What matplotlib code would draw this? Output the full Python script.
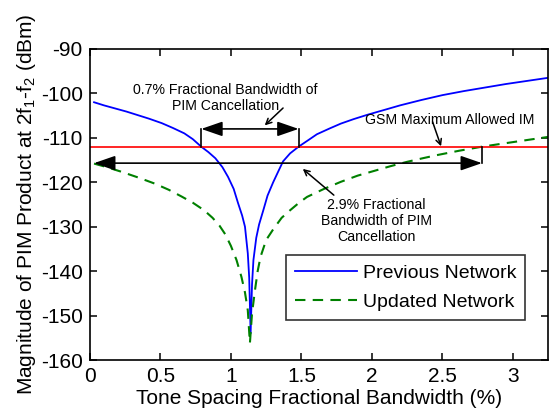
import matplotlib
matplotlib.use("Agg")
import matplotlib.pyplot as plt

plt.rcParams['font.family'] = ['Liberation Sans', 'DejaVu Sans']
plt.rcParams['mathtext.default'] = 'regular'
plt.rcParams['axes.unicode_minus'] = False

# Previous network (blue, solid)
xPrev = [0.03, 0.10, 0.18, 0.26, 0.34, 0.42, 0.51, 0.59, 0.67, 0.73, 0.79, 0.84, 0.89, 0.94, 0.98,
         1.02, 1.05, 1.08, 1.10, 1.12, 1.13, 1.14, 1.15, 1.16, 1.18, 1.20, 1.23, 1.26, 1.30, 1.34,
         1.37, 1.42, 1.48, 1.55, 1.61, 1.70, 1.78, 1.87, 1.97, 2.08, 2.20, 2.35, 2.50, 2.65, 2.80,
         2.95, 3.10, 3.25]
yPrev = [-102.0, -102.7, -103.4, -104.1, -104.9, -105.7, -106.7, -107.8, -109.0, -110.3, -112.0,
         -113.2, -114.6, -116.6, -118.8, -121.5, -124.6, -127.5, -130.0, -136.0, -141.5, -154.0,
         -143.0, -137.5, -132.5, -129.5, -126.3, -123.0, -120.0, -117.3, -115.3, -113.5, -112.0,
         -110.5, -109.2, -107.9, -106.8, -105.8, -104.8, -103.8, -102.7, -101.5, -100.4, -99.5,
         -98.7, -97.9, -97.2, -96.5]

# Updated network (green, dashed)
xUpd = [0.03, 0.12, 0.22, 0.34, 0.46, 0.56, 0.65, 0.73, 0.81, 0.87, 0.92, 0.96, 1.00, 1.04, 1.075,
        1.10, 1.12, 1.135, 1.15, 1.17, 1.19, 1.21, 1.25, 1.30, 1.36, 1.42, 1.48, 1.54, 1.66, 1.78,
        1.90, 2.01, 2.13, 2.25, 2.36, 2.46, 2.62, 2.78, 2.95, 3.10, 3.25]
yUpd = [-115.8, -116.6, -117.6, -118.9, -120.3, -121.7, -123.2, -124.6, -126.3, -128.0, -129.8,
        -131.7, -134.3, -137.5, -141.3, -144.8, -148.8, -156.2, -149.5, -144.5, -140.0, -136.8,
        -133.0, -130.6, -128.0, -126.3, -124.7, -123.3, -121.5, -119.9, -118.5, -117.5, -116.4,
        -115.4, -114.6, -113.9, -112.9, -112.0, -111.2, -110.5, -109.8]

gsmLimit = -112
band07 = [0.79, 1.48]   # ancho de banda 0.7%
band29 = [0.03, 2.78]   # ancho de banda 2.9%
xTicks = [0, 0.5, 1, 1.5, 2, 2.5, 3]
yTicks = [-160, -150, -140, -130, -120, -110, -100, -90]

fig = plt.figure(figsize=(5.51, 4.11), dpi=100)
ax = fig.add_axes([0.163, 0.124, 0.832, 0.757])

ax.plot(xPrev, yPrev, color='#0000ff', lw=1.3, label="Previous Network")
ax.plot(xUpd, yUpd, color='#008000', lw=1.5, ls=(0, (5, 3.5)), label="Updated Network")
ax.axhline(gsmLimit, color='#ff0000', lw=1.2)

#Flechas dobles
flecha = dict(arrowstyle='<|-|>,head_length=1.3,head_width=0.45', color='black', lw=1.2,
              shrinkA=0, shrinkB=0, mutation_scale=10)
y07 = -108
ax.annotate('', xy=(band07[0], y07), xytext=(band07[1], y07), arrowprops=flecha)
ax.plot([band07[0], band07[0]], [y07, gsmLimit], color='black', lw=1.2)
ax.plot([band07[1], band07[1]], [y07, gsmLimit], color='black', lw=1.2)
y29 = -115.7
ax.annotate('', xy=(band29[0], y29), xytext=(band29[1], y29), arrowprops=flecha)
ax.plot([band29[1], band29[1]], [y29, gsmLimit], color='black', lw=1.2)

#Textos con flecha
simple = dict(arrowstyle='->', color='black', lw=1.1, shrinkA=0, shrinkB=0)
ax.text(0.96, -101, "0.7% Fractional Bandwidth of\nPIM Cancellation", fontsize=10.2,
        ha='center', va='center', linespacing=1.2)
ax.annotate('', xy=(1.24, -107.2), xytext=(1.37, -103.3), arrowprops=simple)
ax.text(2.55, -106.1, "GSM Maximum Allowed IM", fontsize=10.2, ha='center', va='center')
ax.annotate('', xy=(2.49, -111.9), xytext=(2.43, -106.4), arrowprops=simple)
ax.text(2.03, -128.7, "2.9% Fractional\nBandwidth of PIM\nCancellation", fontsize=10.2,
        ha='center', va='center', linespacing=1.2)
ax.annotate('', xy=(1.51, -117.0), xytext=(1.73, -122.9), arrowprops=simple)

ax.set_xlim(0, 3.25)
ax.set_ylim(-160, -90)
ax.set_xticks(xTicks)
ax.set_xticklabels(['0', '0.5', '1', '1.5', '2', '2.5', '3'])
ax.set_yticks(yTicks)
ax.tick_params(direction='in', top=True, right=True, labelsize=15, length=5, width=1.1, pad=5)
for s in ax.spines.values():
    s.set_linewidth(1.2)

ax.set_xlabel("Tone Spacing Fractional Bandwidth (%)", fontsize=15, labelpad=2)
ax.set_ylabel("Magnitude of PIM Product at 2f$_1$-f$_2$ (dBm)", fontsize=15, labelpad=2)

leg = ax.legend(loc='lower right', bbox_to_anchor=(0.95, 0.13), fontsize=14, frameon=True,
                fancybox=False, edgecolor='black', handlelength=3.2, borderpad=0.45,
                borderaxespad=0, labelspacing=0.6, handletextpad=0.3)
leg.get_frame().set_linewidth(1.2)

fig.savefig("out.png", dpi=100)
